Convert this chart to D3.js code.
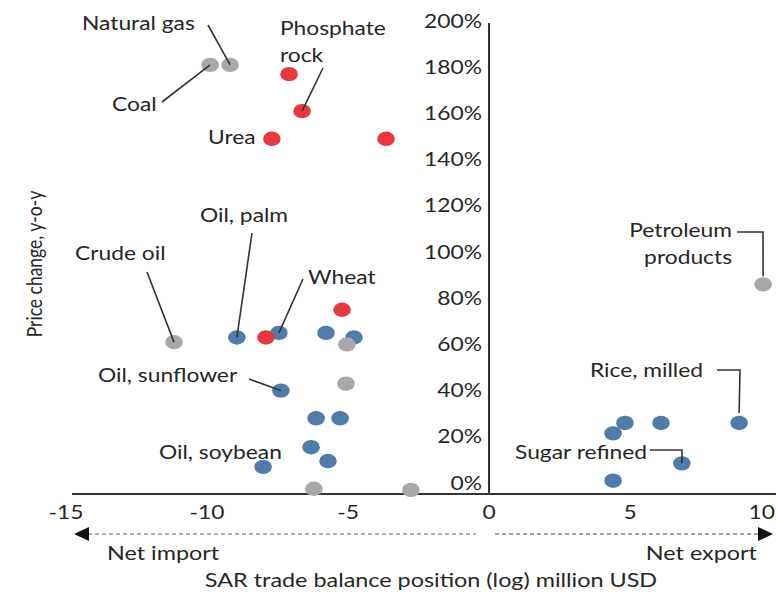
<!DOCTYPE html>
<html lang="en">
<head>
    <meta charset="UTF-8">
    <title>trade-balance-scatter</title>
    <script src="https://cdn.jsdelivr.net/npm/d3@7"></script>
    <style>
        body{
            margin: 0;
            background: #fff;
        }
        svg text{
            font-family: Lato, "Open Sans", sans-serif;
            fill: #262626;
        }
    </style>
</head>
<body>
<svg class="chart"></svg>
<script>
    // trade balance (log, million USD) vs price change y-o-y (%)
    // energy = grey, fertilizer = red, food = blue
    var energy = [
        [-9.89, 181], [-9.18, 181], [-11.17, 61], [-5.04, 60],
        [-5.07, 43], [-6.21, -2.5], [-2.77, -3], [9.72, 86]
    ];
    var energyNames = ['Coal', 'Natural gas', 'Crude oil', '', '', '', '', 'Petroleum products'];

    var fertilizer = [
        [-7.09, 177], [-6.63, 161], [-7.70, 149], [-3.65, 149],
        [-5.21, 75], [-7.91, 63]
    ];
    var fertilizerNames = ['', 'Phosphate rock', 'Urea', '', '', ''];

    var food = [
        [-8.94, 63], [-7.45, 65], [-5.78, 65], [-4.79, 63],
        [-7.38, 40], [-6.13, 28], [-5.28, 28], [-6.31, 15.5],
        [-5.71, 9.5], [-8.01, 7], [4.82, 26], [4.40, 21.5],
        [6.10, 26], [8.87, 26], [6.84, 8.5], [4.40, 1]
    ];
    var foodNames = ['Oil, palm', 'Wheat', '', '', 'Oil, sunflower', '', '', '',
        '', 'Oil, soybean', '', '', '', 'Rice, milled', 'Sugar refined', ''];

    var xTicks = [-15, -10, -5, 0, 5, 10];
    var yTicks = [0, 20, 40, 60, 80, 100, 120, 140, 160, 180, 200];

    var width = 776, height = 597;
    var SX = 1.2; // the picture is stretched sideways

    var svg = d3.select('.chart')
        .attr('width', width)
        .attr('height', height);

    var x = d3.scaleLinear().domain([-15, 10]).range([66, 771]);
    var y = d3.scaleLinear().domain([0, 200]).range([483, 21]);

    function label(g, txt, px, py, anchor, size) {
        return g.append('text')
            .attr('transform', 'translate(' + px + ',' + py + ') scale(' + SX + ',1)')
            .attr('text-anchor', anchor || 'start')
            .attr('dy', '0.35em')
            .style('font-size', (size || 19) + 'px')
            .text(txt);
    }

    // axes
    var axes = svg.append('g');
    axes.append('line')
        .attr('x1', 72).attr('x2', 776)
        .attr('y1', 494).attr('y2', 494)
        .attr('stroke', '#333').attr('stroke-width', 2);
    axes.append('line')
        .attr('x1', x(0)).attr('x2', x(0))
        .attr('y1', 23).attr('y2', 494)
        .attr('stroke', '#333').attr('stroke-width', 2);

    yTicks.forEach(function (t) {
        label(axes, t + '%', 482, y(t), 'end', 19);
    });
    xTicks.forEach(function (t, i) {
        // last label sits against the right edge
        if (i === xTicks.length - 1) label(axes, String(t), width - 1, 512, 'end', 19);
        else label(axes, String(t), x(t), 512, 'middle', 19);
    });

    axes.append('text')
        .attr('transform', 'translate(35,264) scale(' + SX + ',1) rotate(-90)')
        .attr('text-anchor', 'middle')
        .attr('dy', '0.35em')
        .style('font-size', '17.5px')
        .text('Price change, y-o-y');

    // net import / export arrows
    var arr = svg.append('g');
    arr.append('line')
        .attr('x1', 88).attr('x2', 476).attr('y1', 534).attr('y2', 534)
        .attr('stroke', '#999').attr('stroke-width', 1.5)
        .attr('stroke-dasharray', '4,3');
    arr.append('line')
        .attr('x1', 495).attr('x2', 758).attr('y1', 534).attr('y2', 534)
        .attr('stroke', '#888').attr('stroke-width', 1.5)
        .attr('stroke-dasharray', '4,3');
    arr.append('path')
        .attr('d', 'M74,534 L89,527 L89,541 Z')
        .attr('fill', '#111');
    arr.append('path')
        .attr('d', 'M773,534 L758,527 L758,541 Z')
        .attr('fill', '#111');
    label(arr, 'Net import', 107, 553, 'start', 19.5);
    label(arr, 'Net export', 757, 553, 'end', 19.5);
    label(arr, 'SAR trade balance position (log) million USD', 431, 580, 'middle', 19.5);

    // dots
    function dots(data, colour) {
        svg.append('g')
            .selectAll('ellipse')
            .data(data)
            .enter()
            .append('ellipse')
            .attr('cx', function (d) { return x(d[0]); })
            .attr('cy', function (d) { return y(d[1]); })
            .attr('rx', 8.8)
            .attr('ry', 7.2)
            .attr('fill', colour);
    }
    dots(food, '#4f7ca8');
    dots(fertilizer, '#e8383f');
    dots(energy, '#a8a8a8');

    // annotations: label spot + leader start, leader ends on the dot
    var notes = [
        {s: energy, i: 1, txt: ['Natural gas'], tx: 82, ty: 23, from: [[208, 25]]},
        {s: energy, i: 0, txt: ['Coal'], tx: 112, ty: 104, from: [[162, 102]]},
        {s: fertilizer, i: 1, txt: ['Phosphate', 'rock'], tx: 280, ty: 28, from: [[323, 68]]},
        {s: fertilizer, i: 2, txt: ['Urea'], tx: 208, ty: 137, from: null},
        {s: energy, i: 2, txt: ['Crude oil'], tx: 75, ty: 253, from: [[147, 272]]},
        {s: food, i: 0, txt: ['Oil, palm'], tx: 200, ty: 215, from: [[252, 233]]},
        {s: food, i: 1, txt: ['Wheat'], tx: 308, ty: 277, from: [[303, 279]]},
        {s: food, i: 4, txt: ['Oil, sunflower'], tx: 98, ty: 375, from: [[249, 379]]},
        {s: food, i: 9, txt: ['Oil, soybean'], tx: 159, ty: 452, from: null},
        {s: energy, i: 7, txt: ['Petroleum', 'products'], tx: 732, ty: 230, anchor: 'end', from: [[737, 232], [763, 232]], gap: 8},
        {s: food, i: 13, txt: ['Rice, milled'], tx: 590, ty: 370, from: [[717, 370], [740, 370]], gap: 10},
        {s: food, i: 14, txt: ['Sugar refined'], tx: 515, ty: 452, from: [[650, 450], [682, 450]], gap: 0}
    ];

    var ann = svg.append('g');
    notes.forEach(function (n) {
        var d = n.s[n.i];
        if (n.from) {
            var pts = n.from.slice();
            pts.push([x(d[0]), y(d[1]) - (n.gap || 0)]);
            ann.append('path')
                .attr('d', d3.line()(pts))
                .attr('fill', 'none')
                .attr('stroke', '#333')
                .attr('stroke-width', 1.6);
        }
        n.txt.forEach(function (t, k) {
            label(ann, t, n.tx, n.ty + k * 27, n.anchor || 'start', 19);
        });
    });
</script>
</body>
</html>
